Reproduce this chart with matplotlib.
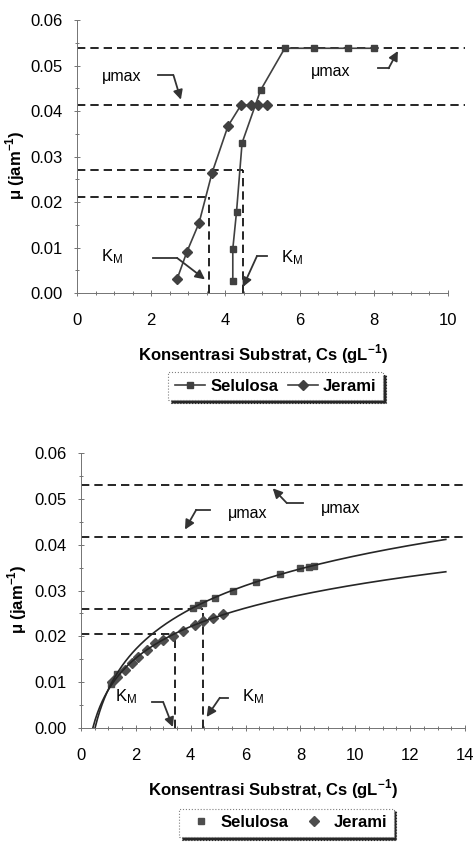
import numpy as np
import matplotlib.pyplot as plt
from matplotlib.ticker import MultipleLocator, FormatStrFormatter

plt.rcParams['font.family'] = ['Liberation Sans', 'DejaVu Sans']

# ---- top chart data ----
sel_x1 = [4.2, 4.2, 4.3, 4.45, 4.95, 5.6, 6.4, 7.3, 8.0]
sel_y1 = [0.0026, 0.0097, 0.0178, 0.0330, 0.0446, 0.0538, 0.0538, 0.0538, 0.0538]
jer_x1 = [2.7, 2.96, 3.29, 3.64, 4.07, 4.42, 4.68, 4.88, 5.11]
jer_y1 = [0.0031, 0.0090, 0.0154, 0.0264, 0.0367, 0.0413, 0.0413, 0.0413, 0.0413]
mumax1 = [0.0538, 0.0413]
half1 = [0.0270, 0.0211]
km1 = [4.47, 3.55]

# ---- bottom chart data ----
sel_x2 = [1.1, 1.3, 4.08, 4.27, 4.45, 4.87, 5.54, 6.39, 7.24, 8.0, 8.33, 8.5]
sel_y2 = [0.0097, 0.0118, 0.0262, 0.0268, 0.0273, 0.0284, 0.0300, 0.0319, 0.0336, 0.0349, 0.0352, 0.0354]
jer_x2 = [1.13, 1.3, 1.6, 1.85, 2.07, 2.4, 2.69, 2.98, 3.35, 3.71, 4.15, 4.44, 4.8, 5.16]
jer_y2 = [0.0100, 0.0111, 0.0127, 0.0142, 0.0155, 0.0170, 0.0185, 0.0192, 0.0201, 0.0212,
          0.0225, 0.0234, 0.0240, 0.0249]
mumax2 = [0.0531, 0.0417]
half2 = [0.0260, 0.0205]
km2 = [4.45, 3.42]

xlabel = 'Konsentrasi Substrat, Cs (gL$^{\\mathregular{-1}}$)'
ylabel = '\u03bc (jam$^{\\mathregular{-1}}$)'
km_txt = '$\\mathregular{K_M}$'
dash = (0, (5, 3))


def style_axes(ax, xmax, xminor):
    for s in ['top', 'right']:
        ax.spines[s].set_visible(False)
    for s in ['left', 'bottom']:
        ax.spines[s].set_color('0.45')
        ax.spines[s].set_linewidth(0.7)
    ax.set_xlim(0, xmax)
    ax.set_ylim(0, 0.06)
    ax.xaxis.set_major_locator(MultipleLocator(2))
    ax.xaxis.set_minor_locator(MultipleLocator(xminor))
    ax.yaxis.set_major_locator(MultipleLocator(0.01))
    ax.yaxis.set_minor_locator(MultipleLocator(0.005))
    ax.yaxis.set_major_formatter(FormatStrFormatter('%.2f'))
    ax.tick_params(which='both', direction='inout', color='0.45', width=0.7, labelsize=12)
    ax.tick_params(which='major', length=5)
    ax.tick_params(which='minor', length=3)
    ax.tick_params(axis='x', pad=12)
    ax.tick_params(axis='y', pad=8)
    ax.set_xlabel(xlabel, fontsize=12, fontweight='bold', labelpad=10)
    ax.set_ylabel(ylabel, fontsize=12, fontweight='bold')
    ax.yaxis.set_label_coords(-0.135, 0.47)


def ref_lines(ax, mumax, half, km, xend):
    for m in mumax:
        ax.plot([0, xend], [m, m], color='k', lw=1.2, ls=dash, clip_on=False)
    for h, k in zip(half, km):
        ax.plot([0, k], [h, h], color='k', lw=1.2, ls=dash)
        ax.plot([k, k], [0, h], color='k', lw=1.2, ls=dash)


def bent_arrow(ax, start, corner, tip):
    ax.plot([start[0], corner[0]], [start[1], corner[1]], color='0.2', lw=1.3)
    ax.annotate('', xy=tip, xytext=corner,
                arrowprops=dict(arrowstyle='-|>', color='0.2', lw=1.3,
                                mutation_scale=14, shrinkA=0, shrinkB=0))


def legend_box(ax, handles, labels, center):
    leg = ax.legend(handles, labels, loc='center', bbox_to_anchor=center,
                    bbox_transform=fig.transFigure, ncol=2, frameon=True, fancybox=False,
                    shadow={'color': '0.15', 'alpha': 1}, handlelength=1.8, handletextpad=0.3,
                    columnspacing=0.6, borderpad=0.4,
                    prop={'weight': 'bold', 'size': 12})
    leg.get_frame().set_edgecolor('0.5')
    leg.get_frame().set_linestyle(':')
    leg.get_frame().set_linewidth(0.8)
    return leg


fig = plt.figure(figsize=(4.74, 8.43), dpi=100)

# ---------- top chart ----------
ax1 = fig.add_axes([0.1624, 0.6524, 0.7827, 0.3238])
style_axes(ax1, 10, 0.5)
ref_lines(ax1, mumax1, half1, km1, 10.45)
h1, = ax1.plot(sel_x1, sel_y1, color='0.25', lw=1.2, marker='s', ms=5)
h2, = ax1.plot(jer_x1, jer_y1, color='0.25', lw=1.2, marker='D', ms=5)
ax1.text(1.2, 0.0475, '\u03bcmax', fontsize=11.5, ha='center', va='center')
ax1.text(6.85, 0.0488, '\u03bcmax', fontsize=11.5, ha='center', va='center')
bent_arrow(ax1, (2.18, 0.0479), (2.6, 0.0479), (2.8, 0.0425))
bent_arrow(ax1, (8.11, 0.0494), (8.4, 0.0494), (8.65, 0.0532))
ax1.text(0.95, 0.0079, km_txt, fontsize=12, ha='center', va='center')
ax1.text(5.8, 0.0077, km_txt, fontsize=12, ha='center', va='center')
bent_arrow(ax1, (2.05, 0.0077), (2.7, 0.0077), (3.45, 0.003))
bent_arrow(ax1, (5.12, 0.0081), (4.85, 0.0081), (4.47, 0.0013))
legend_box(ax1, [h1, h2], ['Selulosa', 'Jerami'], (0.582, 0.542))

# ---------- bottom chart ----------
ax2 = fig.add_axes([0.1709, 0.1364, 0.8101, 0.3262])
style_axes(ax2, 14, 0.5)
ref_lines(ax2, mumax2, half2, km2, 14.0)
g1, = ax2.plot(sel_x2, sel_y2, ls='none', color='0.3', marker='s', ms=5)
g2, = ax2.plot(jer_x2, jer_y2, ls='none', color='0.3', marker='D', ms=5)
# logarithmic trendlines fitted to each series
for xs, ys in [(sel_x2, sel_y2), (jer_x2, jer_y2)]:
    a, b = np.polyfit(np.log(xs), ys, 1)
    x0 = np.exp(-b / a)
    xx = np.linspace(x0, 13.3, 300)
    ax2.plot(xx, a * np.log(xx) + b, color='0.15', lw=1.2)
ax2.text(6.07, 0.0467, '\u03bcmax', fontsize=11.5, ha='center', va='center')
ax2.text(9.47, 0.048, '\u03bcmax', fontsize=11.5, ha='center', va='center')
bent_arrow(ax2, (4.7, 0.0476), (4.2, 0.0476), (3.79, 0.0433))
bent_arrow(ax2, (8.09, 0.0491), (7.5, 0.0491), (6.99, 0.0523))
ax2.text(1.64, 0.0068, km_txt, fontsize=12, ha='center', va='center')
ax2.text(6.27, 0.0068, km_txt, fontsize=12, ha='center', va='center')
bent_arrow(ax2, (2.58, 0.0056), (3.0, 0.0056), (3.35, 0.0002))
bent_arrow(ax2, (5.36, 0.0066), (5.06, 0.0066), (4.58, 0.0024))
legend_box(ax2, [g1, g2], ['Selulosa', 'Jerami'], (0.604, 0.024))

fig.savefig('out.png', dpi=100)
